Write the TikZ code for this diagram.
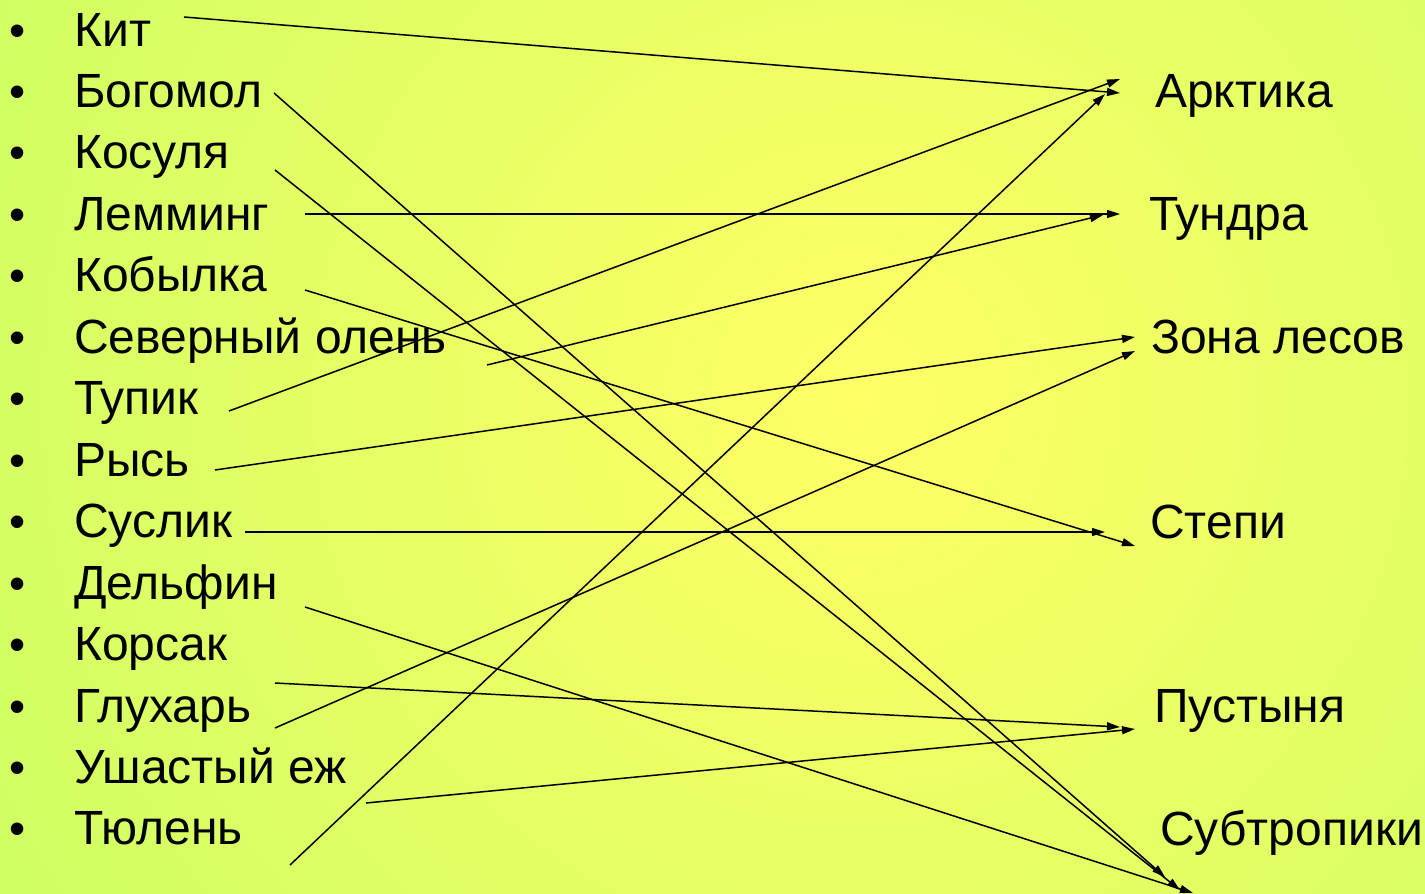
\documentclass[tikz,border=0pt]{standalone}
\usepackage{fontspec}
\setmainfont{Liberation Sans}
\usetikzlibrary{arrows.meta}
\definecolor{bgin}{RGB}{255,255,102}
\definecolor{bgout}{RGB}{158,255,96}
\pgfdeclareradialshading{bgshade}{\pgfpoint{0bp}{0bp}}{color(0bp)=(bgin); color(50bp)=(bgout)}
\tikzset{
  lbl/.style={anchor=base west, inner sep=0pt, font=\fontsize{48}{52}\selectfont},
  bul/.style={anchor=base, inner sep=0pt, font=\fontsize{46}{50}\selectfont},
  link/.style={line width=1.5pt, -{Triangle[length=13pt,width=8pt]}}
}
\begin{document}
\begin{tikzpicture}[x=1pt,y=-1pt]
\useasboundingbox (0,0) rectangle (1425,894);
\begin{scope}
\clip (0,0) rectangle (1425,894);
\shade[shading=bgshade] (860,400) circle (1000);
\end{scope}
% left labels
\foreach \t [count=\i from 0] in {Кит,Богомол,Косуля,Лемминг,Кобылка,Северный олень,Тупик,Рысь,Суслик,Дельфин,Корсак,Глухарь,Ушастый еж,Тюлень}{
  \node[bul] (b\i) at (18,{46+61.46*\i}) {•};
  \node[lbl] (a\i) at (74,{46+61.46*\i}) {\t};
}
% right labels
\node[lbl] (arct) at (1155,107) {Арктика};
\node[lbl] (tund) at (1149,230) {Тундра};
\node[lbl] (les)  at (1151,353) {Зона лесов};
\node[lbl] (step) at (1150,538) {Степи};
\node[lbl] (pust) at (1154,722) {Пустыня};
\node[lbl] (subt) at (1160,845) {Субтропики};
% connector endpoints
\coordinate (sKit) at (184,17);
\coordinate (sBog) at (274,93);
\coordinate (sKos) at (275,170);
\coordinate (sLem) at (305,214);
\coordinate (sKob) at (305,290);
\coordinate (sSev) at (487,365);
\coordinate (sTup) at (229,411);
\coordinate (sRys) at (215,470);
\coordinate (sSus) at (245,532);
\coordinate (sDel) at (305,607);
\coordinate (sKor) at (275,683);
\coordinate (sGlu) at (275,728);
\coordinate (sUsh) at (366,803);
\coordinate (sTyu) at (290,865);
\coordinate (eArc1) at (1120,93);
\coordinate (eArc2) at (1120,79);
\coordinate (eArc3) at (1105,94);
\coordinate (eTun1) at (1120,214);
\coordinate (eTun2) at (1103,215);
\coordinate (eLes1) at (1135,337);
\coordinate (eLes2) at (1135,351);
\coordinate (eSte1) at (1105,532);
\coordinate (eSte2) at (1135,546);
\coordinate (ePus1) at (1120,727);
\coordinate (ePus2) at (1135,729);
\coordinate (eSub1) at (1165,877);
\coordinate (eSub2) at (1180,890);
\coordinate (eSub3) at (1193,893);
\draw[link] (sKit) -- (eArc1);
\draw[link] (sTup) -- (eArc2);
\draw[link] (sTyu) -- (eArc3);
\draw[link] (sLem) -- (eTun1);
\draw[link] (sSev) -- (eTun2);
\draw[link] (sRys) -- (eLes1);
\draw[link] (sGlu) -- (eLes2);
\draw[link] (sSus) -- (eSte1);
\draw[link] (sKob) -- (eSte2);
\draw[link] (sKor) -- (ePus1);
\draw[link] (sUsh) -- (ePus2);
\draw[link] (sBog) -- (eSub1);
\draw[link] (sKos) -- (eSub2);
\draw[link] (sDel) -- (eSub3);
\end{tikzpicture}
\end{document}
